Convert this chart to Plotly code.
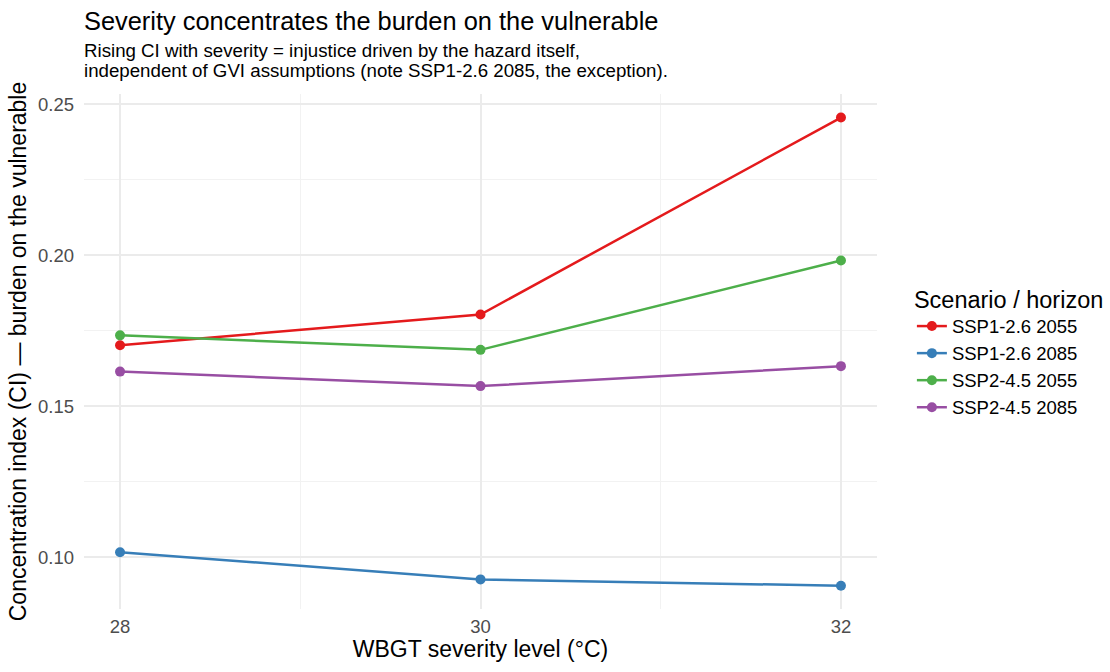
import plotly.graph_objects as go

severity = [28, 30, 32]
series_names = ["SSP1-2.6 2055", "SSP1-2.6 2085", "SSP2-4.5 2055", "SSP2-4.5 2085"]
ssp126_2055 = [0.1702, 0.1804, 0.2456]
ssp126_2085 = [0.1017, 0.0927, 0.0906]
ssp245_2055 = [0.1735, 0.1687, 0.1983]
ssp245_2085 = [0.1615, 0.1567, 0.1633]
colors = ["#E41A1C", "#377EB8", "#4DAF4A", "#984EA3"]
y_ticks = [0.10, 0.15, 0.20, 0.25]
x_ticks = [28, 30, 32]
subtitle_lines = [
    "Rising CI with severity = injustice driven by the hazard itself,",
    "independent of GVI assumptions (note SSP1-2.6 2085, the exception).",
]

FONT = "Liberation Sans, Arial, sans-serif"
PANEL_TOP, PANEL_H = 94, 515

fig = go.Figure()
for name, vals, col in zip(series_names, [ssp126_2055, ssp126_2085, ssp245_2055, ssp245_2085], colors):
    fig.add_trace(go.Scatter(
        x=severity, y=vals, name=name, mode="lines+markers",
        line=dict(color=col, width=2.5),
        marker=dict(color=col, size=10),
    ))

annots = []
for line, py in zip(subtitle_lines, [51, 70]):
    annots.append(dict(
        text=line, xref="paper", yref="paper", x=0, y=1 + (PANEL_TOP - py) / PANEL_H,
        xanchor="left", yanchor="middle", align="left", showarrow=False,
        xshift=-2, font=dict(size=18.7, color="black", family=FONT),
    ))

fig.update_layout(
    width=1110, height=672,
    paper_bgcolor="white", plot_bgcolor="white",
    margin=dict(l=84, r=233, t=PANEL_TOP, b=672 - PANEL_TOP - PANEL_H, autoexpand=False),
    font=dict(family=FONT, color="#1a1a1a"),
    title=dict(
        text="Severity concentrates the burden on the vulnerable",
        x=84/1110, xanchor="left", xref="container",
        y=1-21/672, yanchor="middle", yref="container",
        font=dict(size=25.4, color="black", family=FONT),
    ),
    annotations=annots,
    legend=dict(
        title=dict(text="Scenario / horizon", font=dict(size=23.5, color="black")),
        font=dict(size=18.5, color="black"),
        x=1.044, xanchor="left", y=0.5, yanchor="middle",
        bgcolor="rgba(0,0,0,0)",
    ),
    xaxis=dict(
        title=dict(text="WBGT severity level (°C)", font=dict(size=23, color="black"), standoff=4),
        range=[27.8, 32.2], tickvals=x_ticks, ticktext=[str(v) for v in x_ticks],
        tickfont=dict(size=18.5, color="#4d4d4d"), ticklabelstandoff=4,
        showgrid=True, gridcolor="#ebebeb", gridwidth=1.6,
        minor=dict(tickvals=[29, 31], showgrid=True, gridcolor="#f2f2f2", gridwidth=0.8),
        zeroline=False, showline=False, ticks="",
    ),
    yaxis=dict(
        title=dict(text="Concentration index (CI) — burden on the vulnerable", font=dict(size=23, color="black"), standoff=4),
        range=[0.0829, 0.2534], tickvals=y_ticks, ticktext=[f"{v:.2f}" for v in y_ticks],
        tickfont=dict(size=18.5, color="#4d4d4d"), ticklabelstandoff=9,
        showgrid=True, gridcolor="#ebebeb", gridwidth=1.6,
        minor=dict(tickvals=[0.125, 0.175, 0.225], showgrid=True, gridcolor="#f2f2f2", gridwidth=0.8),
        zeroline=False, showline=False, ticks="",
    ),
)

fig.write_html("out.html")
